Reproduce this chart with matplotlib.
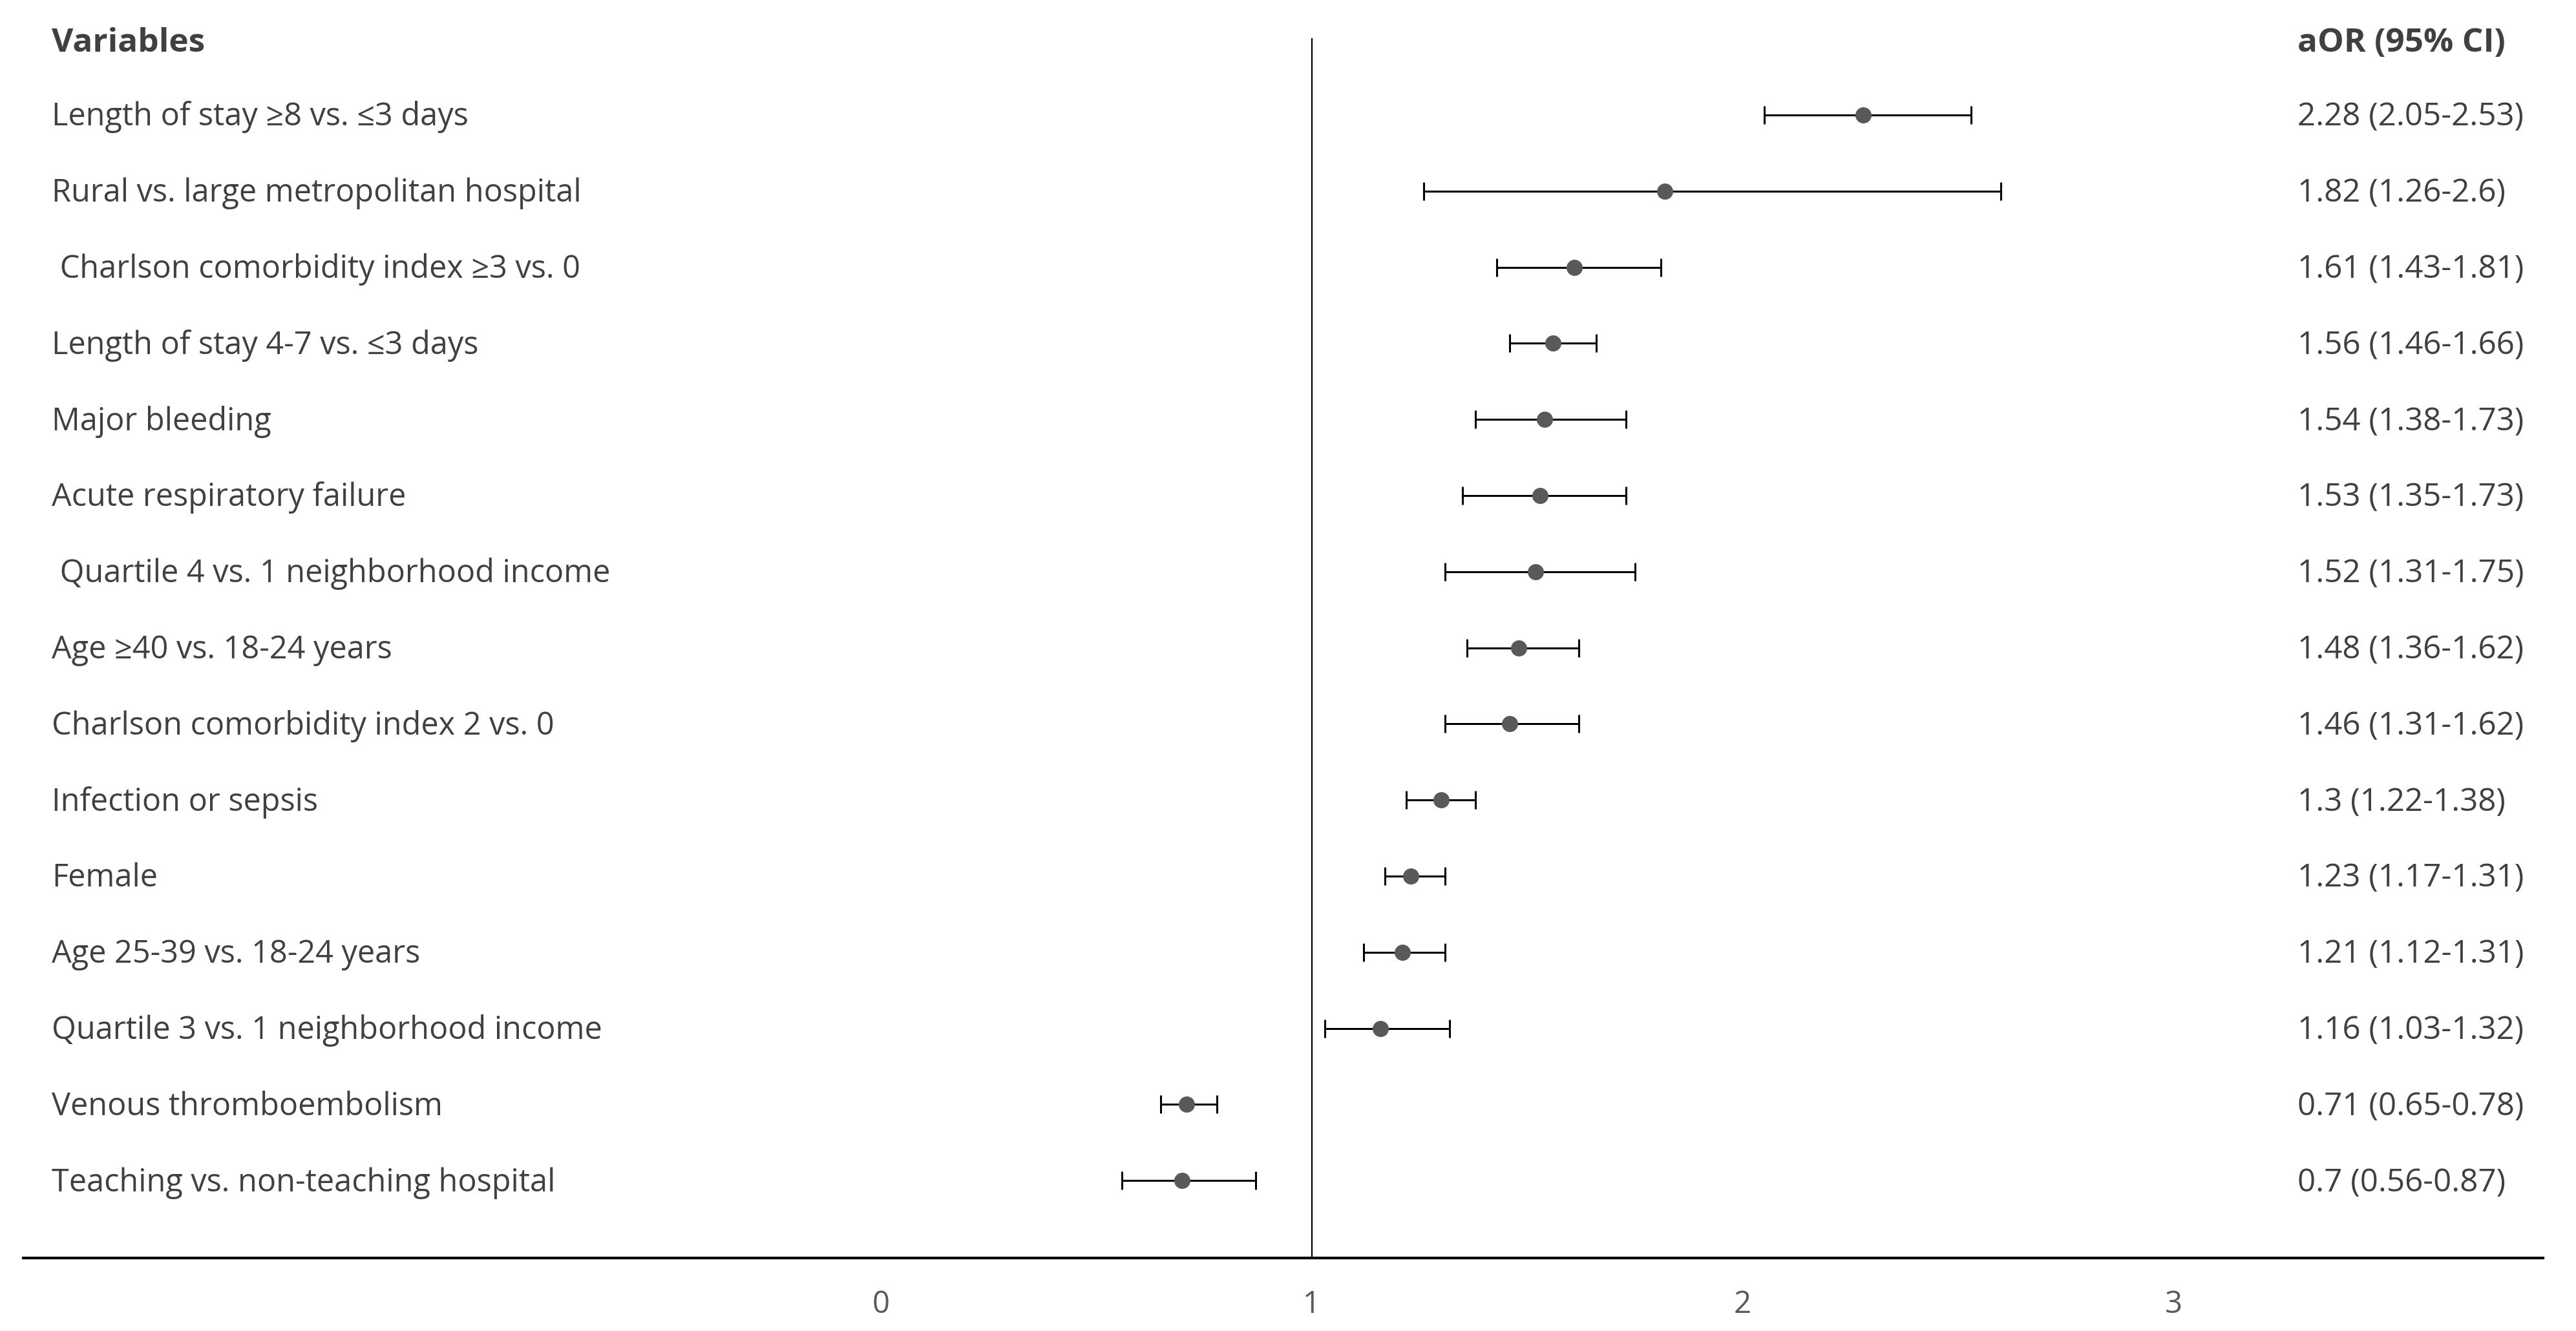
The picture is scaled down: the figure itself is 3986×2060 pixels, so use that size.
import matplotlib
matplotlib.use('Agg')
import matplotlib.pyplot as plt
import matplotlib.transforms as mtransforms

plt.rcParams['font.family'] = ['Open Sans', 'DejaVu Sans']

variables = [
    'Length of stay ≥8 vs. ≤3 days',
    'Rural vs. large metropolitan hospital',
    ' Charlson comorbidity index ≥3 vs. 0',
    'Length of stay 4-7 vs. ≤3 days',
    'Major bleeding',
    'Acute respiratory failure',
    ' Quartile 4 vs. 1 neighborhood income',
    'Age ≥40 vs. 18-24 years',
    'Charlson comorbidity index 2 vs. 0',
    'Infection or sepsis',
    'Female',
    'Age 25-39 vs. 18-24 years',
    'Quartile 3 vs. 1 neighborhood income',
    'Venous thromboembolism',
    'Teaching vs. non-teaching hospital',
]
aor = [2.28, 1.82, 1.61, 1.56, 1.54, 1.53, 1.52, 1.48, 1.46, 1.3, 1.23, 1.21, 1.16, 0.71, 0.7]
ci_low = [2.05, 1.26, 1.43, 1.46, 1.38, 1.35, 1.31, 1.36, 1.31, 1.22, 1.17, 1.12, 1.03, 0.65, 0.56]
ci_high = [2.53, 2.6, 1.81, 1.66, 1.73, 1.73, 1.75, 1.62, 1.62, 1.38, 1.31, 1.31, 1.32, 0.78, 0.87]
ci_text = ['2.28 (2.05-2.53)', '1.82 (1.26-2.6)', '1.61 (1.43-1.81)', '1.56 (1.46-1.66)',
           '1.54 (1.38-1.73)', '1.53 (1.35-1.73)', '1.52 (1.31-1.75)', '1.48 (1.36-1.62)',
           '1.46 (1.31-1.62)', '1.3 (1.22-1.38)', '1.23 (1.17-1.31)', '1.21 (1.12-1.31)',
           '1.16 (1.03-1.32)', '0.71 (0.65-0.78)', '0.7 (0.56-0.87)']
xticks = [0, 1, 2, 3]

W, H = 3986, 2060
fig = plt.figure(figsize=(W / 100, H / 100), dpi=100)
ax = fig.add_axes([36 / W, 1 - 1947 / H, (3935 - 36) / W, (1947 - 59) / H])

rows = list(range(len(variables)))
xerr = [[a - l for a, l in zip(aor, ci_low)], [h - a for a, h in zip(aor, ci_high)]]
ax.errorbar(aor, rows, xerr=xerr, fmt='none', ecolor='black', elinewidth=2.2,
            capsize=10, capthick=2.2, zorder=2)
ax.plot(aor, rows, 'o', color='#595959', markersize=18, markeredgewidth=0, zorder=3)
ax.axvline(1, color='black', lw=1.6, zorder=1)

ax.set_xlim(-1.990, 3.858)
ax.set_ylim(15.017, -1.010)
ax.set_yticks([])
ax.set_xticks(xticks)
ax.tick_params(axis='x', length=0, pad=35, labelsize=34, labelcolor='#595959')
for s in ['top', 'left', 'right']:
    ax.spines[s].set_visible(False)
ax.spines['bottom'].set_linewidth(3)

trans = mtransforms.blended_transform_factory(fig.transFigure, ax.transData)
txt = '#404040'
ax.text(80 / W, -1 + 0.17, 'Variables', transform=trans, fontsize=37,
        fontweight='bold', color=txt, va='baseline', ha='left')
ax.text(3555 / W, -1 + 0.17, 'aOR (95% CI)', transform=trans, fontsize=37,
        fontweight='bold', color=txt, va='baseline', ha='left')
for i, (v, c) in enumerate(zip(variables, ci_text)):
    ax.text(80 / W, i + 0.14, v, transform=trans, fontsize=35, color=txt,
            va='baseline', ha='left')
    ax.text(3555 / W, i + 0.14, c, transform=trans, fontsize=35.5, color=txt,
            va='baseline', ha='left')

fig.savefig('out.png', dpi=100, facecolor='white')
